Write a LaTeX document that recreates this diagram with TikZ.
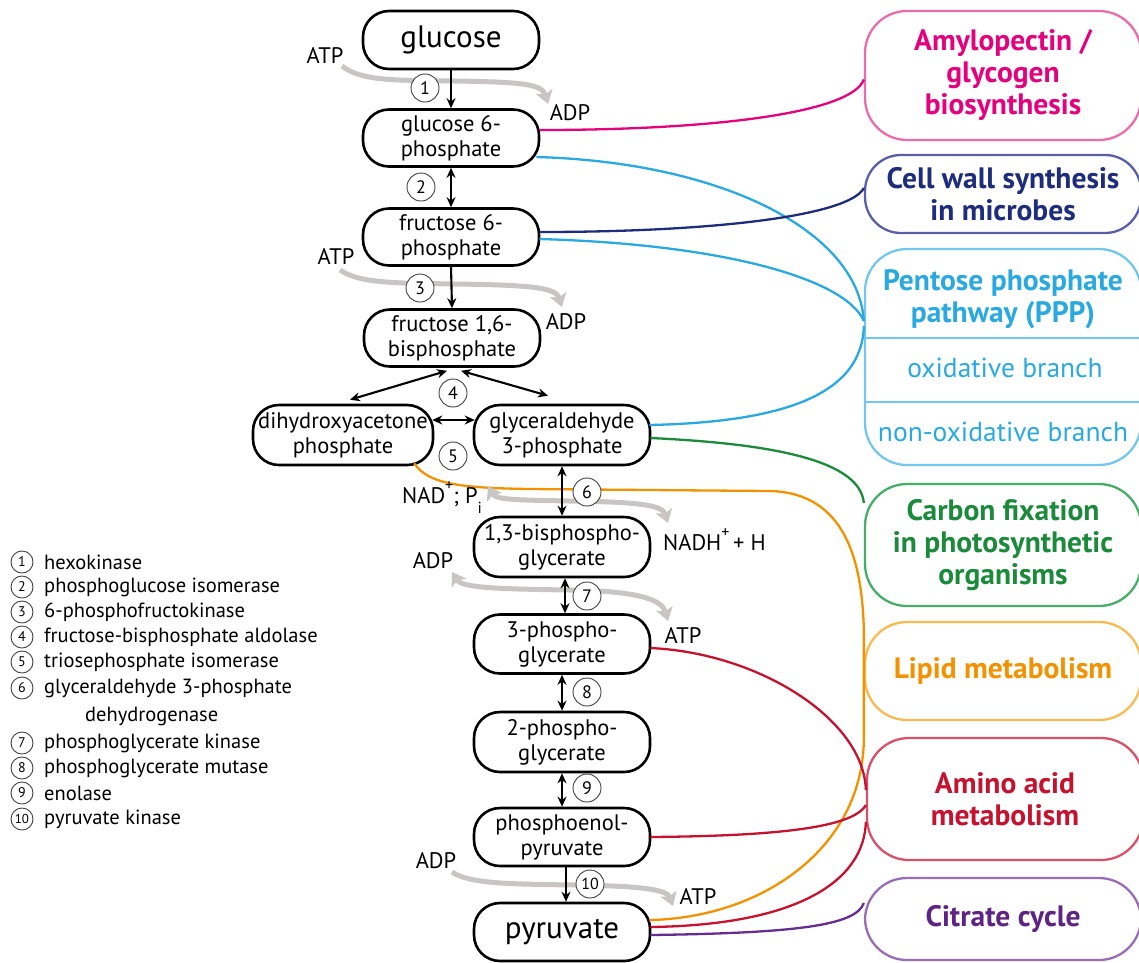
\documentclass[tikz,border=0pt]{standalone}
\usepackage{fontspec}
\setmainfont{PT Sans}
\usetikzlibrary{arrows.meta,calc}
\definecolor{pinkT}{HTML}{E5007D}
\definecolor{pinkB}{HTML}{EC6BAA}
\definecolor{navyT}{HTML}{1D2C7B}
\definecolor{navyB}{HTML}{5A5EA8}
\definecolor{blueT}{HTML}{29A9E0}
\definecolor{blueB}{HTML}{74C7EC}
\definecolor{greenT}{HTML}{1C8A3B}
\definecolor{greenB}{HTML}{45AE68}
\definecolor{orangeT}{HTML}{F39200}
\definecolor{orangeB}{HTML}{F9BA52}
\definecolor{redT}{HTML}{C4122F}
\definecolor{redB}{HTML}{D9506A}
\definecolor{purpleT}{HTML}{5E2483}
\definecolor{purpleB}{HTML}{9A6CB3}
\definecolor{purpleL}{HTML}{662D91}
\definecolor{cofgrey}{HTML}{C9C5C5}
\begin{document}
\begin{tikzpicture}[x=1pt,y=-1pt,
  met/.style={draw=black, line width=2.6pt, rounded corners=26pt, minimum width=176pt,
    minimum height=57pt, align=center, inner sep=0pt, fill=white,
    font=\fontsize{22.5}{25}\selectfont},
  big/.style={met, minimum height=58pt, font=\fontsize{31}{31}\selectfont},
  enz/.style={circle, draw=black!75, line width=0.9pt, fill=white, minimum size=28pt,
    inner sep=0pt, font=\fontsize{18}{18}\selectfont},
  leg/.style={circle, draw=black!75, line width=0.9pt, minimum size=22pt, inner sep=0pt,
    font=\fontsize{14}{14}\selectfont},
  legtxt/.style={anchor=west, inner sep=0pt, font=\fontsize{20.5}{20.5}\selectfont},
  rx/.style={draw=black, line width=2.1pt, -{Stealth[length=10pt,width=9pt]}},
  rxx/.style={rx, {Stealth[length=10pt,width=9pt]}-{Stealth[length=10pt,width=9pt]}},
  cof/.style={draw=cofgrey, line width=5pt, -{Stealth[length=13pt,width=17pt,inset=3pt]}},
  cofx/.style={cof, {Stealth[length=13pt,width=17pt,inset=3pt]}-{Stealth[length=13pt,width=17pt,inset=3pt]}},
  sm/.style={inner sep=0pt, font=\fontsize{22.5}{22.5}\selectfont},
  pbox/.style={line width=2.3pt, rounded corners=42pt, minimum width=276pt, inner sep=0pt, align=center},
  pb/.style={font=\bfseries\fontsize{29.5}{32}\selectfont},
  con/.style={line width=2.3pt}
]
\useasboundingbox (0,0) rectangle (1139,962);
\clip (0,0) rectangle (1139,962);

% ---------- pathway boxes ----------
\node[pbox, draw=pinkB, minimum height=129pt, pb, text=pinkT] (amy) at (1003,75.5)
  {Amylopectin /\\glycogen\\biosynthesis};
\node[pbox, draw=navyB, minimum height=78pt, pb, text=navyT, rounded corners=36pt] (cwall) at (1003,194)
  {Cell wall synthesis\\in microbes};
\node[pbox, draw=blueB, minimum height=216pt] (ppp) at (1003,357) {};
\node[pb, text=blueT, align=center, inner sep=0pt] (ppptit) at (1003,299) {Pentose phosphate\\pathway (PPP)};
\draw[blueB, line width=2.3pt] (ppp.west |- 0,338) coordinate (d1a) -- (ppp.east |- 0,338) coordinate (d1b);
\draw[blueB, line width=2.3pt] (ppp.west |- 0,402) coordinate (d2a) -- (ppp.east |- 0,402) coordinate (d2b);
\node[text=blueT, inner sep=0pt, font=\fontsize{27.5}{27.5}\selectfont] (oxb) at (1005,368) {oxidative branch};
\node[text=blueT, inner sep=0pt, font=\fontsize{27.5}{27.5}\selectfont] (noxb) at (1003,432) {non-oxidative branch};
\node[pbox, draw=greenB, minimum height=122pt, pb, text=greenT] (cfix) at (1003,545)
  {Carbon fixation\\in photosynthetic\\organisms};
\node[pbox, draw=orangeB, minimum height=98pt, pb, text=orangeT] (lipid) at (1003,671)
  {Lipid metabolism};
\node[pbox, draw=redB, minimum height=122pt, pb, text=redT] (amino) at (1005,799)
  {Amino acid\\metabolism};
\node[pbox, draw=purpleB, minimum height=82pt, pb, text=purpleT] (citr) at (1003,919)
  {Citrate cycle};

% ---------- metabolite boxes ----------
\node[big] (glc) at (451,40) {glucose};
\node[met] (g6p) at (451,138) {glucose 6-\\phosphate};
\node[met] (f6p) at (451,237) {fructose 6-\\phosphate};
\node[met] (fbp) at (452,338) {fructose 1,6-\\bisphosphate};
\node[met, minimum width=180pt, minimum height=60pt] (dhap) at (343,435) {dihydroxyacetone\\phosphate};
\node[met, minimum height=60pt] (gap) at (562,435) {glyceraldehyde\\3-phosphate};
\node[met, minimum height=60pt] (bpg) at (562,547) {1,3-bisphospho-\\glycerate};
\node[met, minimum height=59pt] (pg3) at (562,644) {3-phospho-\\glycerate};
\node[met, minimum height=60pt] (pg2) at (562,742) {2-phospho-\\glycerate};
\node[met, minimum height=58pt] (pep) at (562,837) {phosphoenol-\\pyruvate};
\node[big] (pyr) at (562,932) {pyruvate};

% ---------- connectors to pathways ----------
\draw[con, pinkT] ($(g6p.east)+(-1,-8)$) .. controls (720,130) and (852,112) .. ($(amy.west)+(0,4)$);
\draw[con, blueT] ($(g6p.east)+(-4,19)$) .. controls (720,162) and (858,230) .. ($(ppp.west)+(0,-36)$);
\draw[con, navyT] ($(f6p.east)+(-1,-5)$) .. controls (720,232) and (850,215) .. ($(cwall.west)+(0,-6)$);
\draw[con, blueT] ($(f6p.east)+(-1,2)$) .. controls (720,244) and (845,278) .. ($(ppp.west)+(0,-36)$);
\draw[con, blueT] ($(gap.east)+(-2,-10)$) .. controls (790,422) and (862,392) .. ($(ppp.west)+(0,-31)$);
\draw[con, greenT] ($(gap.east)+(-1,3)$) .. controls (780,444) and (860,462) .. ($(cfix.west)+(0,-42)$);
\draw[con, orangeT] ($(dhap.south east)+(-20,-3)$) .. controls (428,484) and (460,488) .. (530,489)
  -- (770,491) .. controls (845,493) and (862,560) .. ($(lipid.west)+(0,-41)$)
  -- ($(lipid.west)+(0,69)$) .. controls (862,850) and (760,918) .. ($(pyr.east)+(-2,-12)$);
\draw[con, redT] ($(pg3.east)+(-1,4)$) .. controls (760,653) and (864,720) .. ($(amino.west)+(0,-9)$);
\draw[con, redT] ($(pep.east)+(-1,0)$) .. controls (760,836) and (852,830) .. ($(amino.west)+(0,6)$);
\draw[con, redT] ($(pyr.east)+(-1,-5)$) .. controls (800,925) and (864,880) .. ($(amino.west)+(0,23)$);
\draw[con, purpleL] ($(pyr.east)+(-1,3)$) .. controls (800,933) and (856,925) .. ($(citr.west)+(0,-16)$);

% ---------- cofactor labels ----------
\node[sm] (atp1) at (325,55) {ATP};
\node[sm] (adp1) at (570,113) {ADP};
\node[sm] (atp3) at (336,256) {ATP};
\node[sm] (adp3) at (566,322) {ADP};
\node[sm, anchor=base west] (nad) at (402,503) {NAD\raisebox{0.55em}{\fontsize{16}{16}\selectfont +}; P\raisebox{-0.45em}{\fontsize{16}{16}\selectfont i}};
\node[sm, anchor=base west] (nadh) at (663,550) {NADH\raisebox{0.55em}{\fontsize{16}{16}\selectfont +}\,+ H};
\node[sm] (adp7) at (433,561) {ADP};
\node[sm] (atp7) at (683,635) {ATP};
\node[sm] (adp10) at (436,861) {ADP};
\node[sm] (atp10) at (698,896) {ATP};

% ---------- cofactor arrows ----------
\coordinate (s1) at (342,66);   \coordinate (e1) at (548,104);
\coordinate (s3) at (340,270);  \coordinate (e3) at (562,307);
\coordinate (s6) at (488,486);  \coordinate (e6) at (668,523);
\coordinate (s7) at (452,572);  \coordinate (e7) at (668,621);
\coordinate (s10) at (452,872); \coordinate (e10) at (673,906);
\draw[cof] (s1) .. controls (362,82) and (400,80) .. (455,81) .. controls (522,82) and (542,84) .. (e1);
\draw[cof] (s3) .. controls (360,284) and (400,283) .. (455,284) .. controls (535,285) and (556,288) .. (e3);
\draw[cofx] (s6) .. controls (496,500) and (520,500) .. (570,501) .. controls (640,502) and (662,505) .. (e6);
\draw[cofx] (s7) .. controls (462,588) and (500,589) .. (570,590) .. controls (640,591) and (662,600) .. (e7);
\draw[cof] (s10) .. controls (470,884) and (510,884) .. (575,885) .. controls (645,886) and (667,890) .. (e10);

% ---------- enzyme circles ----------
\node[enz] (c1) at (425,88) {1};
\node[enz] (c2) at (421,187) {2};
\node[enz] (c3) at (420,288) {3};
\node[enz] (c4) at (453,393) {4};
\node[enz] (c5) at (453,456) {5};
\node[enz] (c6) at (587,492) {6};
\node[enz] (c7) at (587,596) {7};
\node[enz] (c8) at (587,692) {8};
\node[enz] (c9) at (587,788) {9};
\node[enz, font=\fontsize{16}{16}\selectfont] (c10) at (590,884) {10};

% ---------- reaction arrows ----------
\draw[rx] (glc.south) -- (g6p.north);
\draw[rxx] (g6p.south) -- (f6p.north);
\draw[rx] (f6p.south) -- (fbp.north);
\draw[rxx] ($(fbp.south)+(-5,3)$) -- ($(dhap.north)+(7,-4)$);
\draw[rxx] ($(fbp.south)+(9,3)$) -- ($(gap.north)+(-14,-8)$);
\draw[rxx] ($(dhap.east)+(-2,-15)$) -- ($(gap.west)+(2,-15)$);
\draw[rxx] (gap.south) -- (bpg.north);
\draw[rxx] ($(bpg.south)+(3,0)$) -- ($(pg3.north)+(3,0)$);
\draw[rxx] (pg3.south) -- (pg2.north);
\draw[rxx] (pg2.south) -- (pep.north);
\draw[rx] ($(pep.south)+(4,0)$) -- ($(pyr.north)+(4,0)$);

% ---------- legend ----------
\node[leg] (l1) at (22,562) {1};   \node[legtxt] (t1) at (44,562) {hexokinase};
\node[leg] (l2) at (22,587) {2};   \node[legtxt] (t2) at (44,587) {phosphoglucose isomerase};
\node[leg] (l3) at (22,612) {3};   \node[legtxt] (t3) at (44,612) {6-phosphofructokinase};
\node[leg] (l4) at (22,637) {4};   \node[legtxt] (t4) at (44,637) {fructose-bisphosphate aldolase};
\node[leg] (l5) at (22,662) {5};   \node[legtxt] (t5) at (44,662) {triosephosphate isomerase};
\node[leg] (l6) at (22,688) {6};   \node[legtxt] (t6) at (44,688) {glyceraldehyde 3-phosphate};
\node[legtxt] (t6b) at (85,716) {dehydrogenase};
\node[leg] (l7) at (22,743) {7};   \node[legtxt] (t7) at (44,743) {phosphoglycerate kinase};
\node[leg] (l8) at (22,768) {8};   \node[legtxt] (t8) at (44,768) {phosphoglycerate mutase};
\node[leg] (l9) at (22,793) {9};   \node[legtxt] (t9) at (44,793) {enolase};
\node[leg, font=\fontsize{13}{13}\selectfont] (l10) at (22,819) {10}; \node[legtxt] (t10) at (44,819) {pyruvate kinase};
\end{tikzpicture}
\end{document}
